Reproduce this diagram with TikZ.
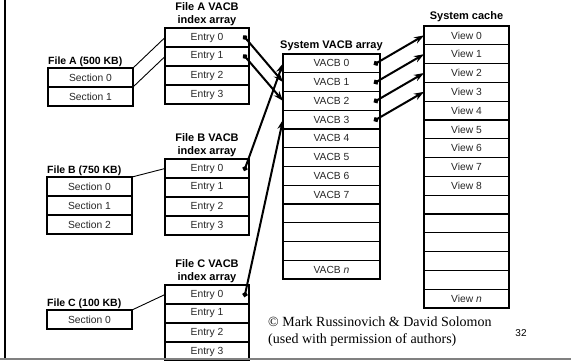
\documentclass[tikz,border=0pt]{standalone}
\usepackage{fontspec}
\setmainfont{Liberation Sans}
\newfontfamily\creditfont{Liberation Serif}
\usetikzlibrary{arrows.meta,positioning}
\tikzset{
  cell/.style={draw, line width=1.1pt, minimum width=84pt, minimum height=19pt,
    inner sep=0pt, outer sep=0pt, text=black!85, font=\fontsize{10.3}{12}\selectfont},
  seccell/.style={cell, minimum width=85pt},
  vacbcell/.style={cell, minimum width=97pt, minimum height=18.75pt},
  viewcell/.style={cell, minimum width=85pt, minimum height=18.8pt},
  title/.style={font=\fontsize{11}{13}\selectfont\bfseries, align=center, inner sep=0pt},
  filelabel/.style={font=\fontsize{10.5}{12}\selectfont\bfseries, inner sep=0pt, anchor=south west},
  link/.style={line width=0.9pt},
  ptr/.style={{Circle[length=5pt]}-{Stealth[length=10pt,width=7pt]}, line width=2pt, shorten <=-2.5pt}
}

\begin{document}
\begin{tikzpicture}[x=1pt, y=-1pt]
    \useasboundingbox (0,0) rectangle (571,360);
    % per-file VACB index arrays
    \foreach \i in {0,...,3} {
      \node[cell, anchor=north west] (ea\i) at (165,{28+19*\i}) {Entry \i};
      \node[cell, anchor=north west] (eb\i) at (165,{159+19*\i}) {Entry \i};
      \node[cell, anchor=north west] (ec\i) at (165,{285+19*\i}) {Entry \i};
    }
    \node[title, above=2pt of ea0] (eatitle) {File A VACB\\index array};
    \node[title, above=2pt of eb0] (ebtitle) {File B VACB\\index array};
    \node[title, above=2pt of ec0] (ectitle) {File C VACB\\index array};
    % files and their sections
    \node[seccell, anchor=north west] (secA0) at (48,68) {Section 0};
    \node[seccell, below=0pt of secA0] (secA1) {Section 1};
    \node[seccell, anchor=north west] (secB0) at (47,177) {Section 0};
    \node[seccell, below=0pt of secB0] (secB1) {Section 1};
    \node[seccell, below=0pt of secB1] (secB2) {Section 2};
    \node[seccell, anchor=north west] (secC0) at (47,310) {Section 0};
    \node[filelabel] (fileA) at ([yshift=1pt]secA0.north west) {File A (500 KB)};
    \node[filelabel] (fileB) at ([yshift=1pt]secB0.north west) {File B (750 KB)};
    \node[filelabel] (fileC) at ([yshift=1pt]secC0.north west) {File C (100 KB)};
    % system VACB array
    \foreach \i in {0,...,7}
      \node[vacbcell, anchor=north west] (vacb\i) at (283,{54+18.75*\i}) {VACB \i};
    \foreach \i in {8,9,10}
      \node[vacbcell, anchor=north west] (vacb\i) at (283,{54+18.75*\i}) {};
    \node[vacbcell, anchor=north west] (vacb11) at (283,{54+18.75*11}) {VACB \textit{n}};
    \node[title, above=3pt of vacb0] (vacbtitle) {System VACB array};
    % system cache
    \foreach \i in {0,...,8}
      \node[viewcell, anchor=north west] (view\i) at (424,{26+18.8*\i}) {View \i};
    \foreach \i in {9,...,13}
      \node[viewcell, anchor=north west] (view\i) at (424,{26+18.8*\i}) {};
    \node[viewcell, anchor=north west] (view14) at (424,{26+18.8*14}) {View \textit{n}};
    \node[title, above=4pt of view0] (cachetitle) {System cache};
    % links
    \draw[link] (secA0.north east) -- (ea0.west);
    \draw[link] (secA0.south east) -- (ea1.west);
    \draw[link] (secB0.north east) -- (eb0.west);
    \draw[link] (secC0.north east) -- (ec0.west);
    \draw[ptr] ([xshift=-4pt]ea0.east) -- (vacb1.west);
    \draw[ptr] ([xshift=-4pt]ea1.east) -- (vacb2.west);
    \draw[ptr] ([xshift=-4pt]eb0.east) -- (vacb0.west);
    \draw[ptr] ([xshift=-4pt]ec0.east) -- (vacb3.west);
    \foreach \i in {0,...,3}
      \draw[ptr] ([xshift=-4pt]vacb\i.east) -- (view\i.west);
    % credit and page number
    \node[anchor=west, align=left, inner sep=0pt, font=\creditfont\fontsize{14}{17}\selectfont] (credit) at (268,331.5)
      {\textcopyright{} Mark Russinovich \& David Solomon\\(used with permission of authors)};
    \node[font=\fontsize{10}{12}\selectfont] (pagenum) at (521,333) {32};
    % slide frame
    \draw[line width=2pt] (5,0) -- (5,359);
    \draw[gray, line width=1.3pt] (0,359) -- (571,359);
  \end{tikzpicture}
\end{document}
